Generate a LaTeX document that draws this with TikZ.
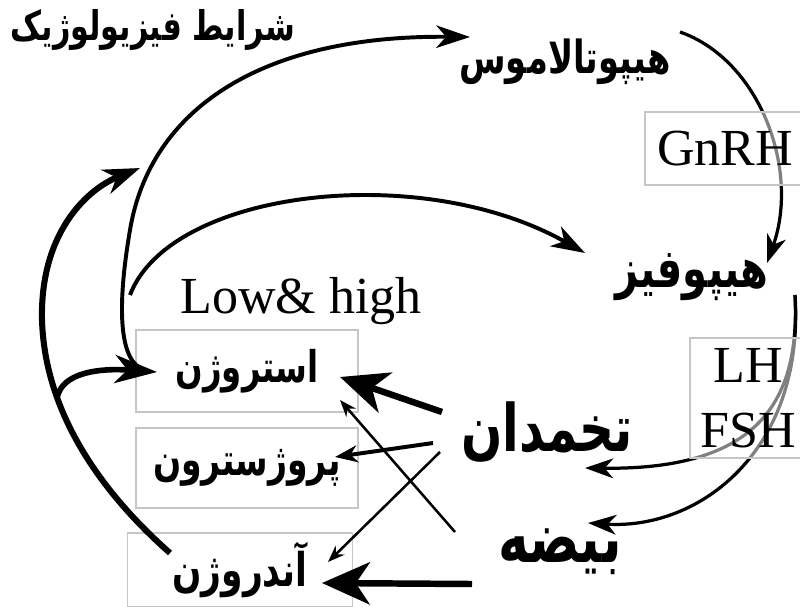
\documentclass[tikz,border=0pt]{standalone}
\usepackage{fontspec}
\setmainfont{Liberation Serif}
\newfontfamily\arabicfont[Script=Arabic]{DejaVu Sans}
\TeXXeTstate=1
\usetikzlibrary{arrows.meta}
\newcommand{\fa}[1]{\scalebox{1}[1.35]{\beginR #1\endR}}

\begin{document}
\begin{tikzpicture}[x=0.025cm,y=-0.025cm,
  fatext/.style={font=\arabicfont\bfseries\fontsize{#1}{#1}\selectfont,inner sep=0pt},
  latin/.style={font=\fontsize{37}{46}\selectfont,inner sep=0pt},
  hormbox/.style={fatext=#1,draw=gray!45,line width=0.8pt},
  gonbox/.style={latin,draw=gray!45,line width=0.8pt,fill=white,fill opacity=0.5,text opacity=1,align=center},
  feed/.style={line width=2.8pt,-{Stealth[length=24pt,width=16pt,inset=7pt]}},
  axis/.style={line width=2.3pt,-{Stealth[length=20pt,width=14pt,inset=6pt]}},
  heavy/.style={line width=4.6pt,-{Stealth[length=34pt,width=30pt,inset=10pt]}},
  medium/.style={line width=2.8pt,-{Stealth[length=16pt,width=12pt,inset=5pt]}},
  light/.style={line width=1.8pt,-{Stealth[length=12pt,width=9pt,inset=4pt]}}]

  \useasboundingbox (0,0) rectangle (800,606);

  \node[fatext=21.5] (physcond) at (153,30) {\fa{شرایط فیزیولوژیک}};
  \node[fatext=24] (hypoth) at (565,62) {\fa{هیپوتالاموس}};
  \node[fatext=28.5] (hypoph) at (692,277) {\fa{هیپوفیز}};
  \node[latin,anchor=base] (lowhigh) at (301,313) {Low\& high};
  \node[fatext=34.5] (ovary) at (547,432) {\fa{تخمدان}};
  \node[fatext=37] (testis) at (560,552) {\fa{بیضه}};

  \node[hormbox=23,minimum width=5.55cm,minimum height=2.05cm] (estrogen) at (247,371) {\fa{استروژن}};
  \node[hormbox=23.5,minimum width=5.55cm,minimum height=2cm] (progest) at (247,468) {\fa{پروژسترون}};
  \node[hormbox=24.5,minimum width=5.63cm,minimum height=1.85cm] (androgen) at (240,570) {\fa{آندروژن}};

  \coordinate (estfoot) at (140,368);
  \coordinate (fork) at (130,295);
  \coordinate (hypothin) at (470,37);
  \coordinate (hypophin) at (585,253);
  \coordinate (hypothout) at (680,32);
  \coordinate (hypophtop) at (767,263);
  \coordinate (hypophout) at (795,295);
  \coordinate (ovaryin) at (585,468);
  \coordinate (testisin) at (588,523);
  \coordinate (androut) at (170,553);
  \coordinate (androfork) at (57,398);
  \coordinate (estin) at (157,372);
  \coordinate (physin) at (140,168);

  \draw[feed] (estfoot) .. controls (118,355) and (118,300) .. (130,230)
    .. controls (150,110) and (260,35) .. (hypothin);
  \draw[feed] (fork) .. controls (170,190) and (420,160) .. (hypophin);
  \draw[axis] (hypothout) .. controls (760,60) and (800,170) .. (hypophtop);
  \draw[axis] (hypophout) .. controls (800,400) and (760,470) .. (ovaryin);
  \draw[axis] (hypophout) .. controls (805,450) and (700,530) .. (testisin);

  \draw[line width=4.3pt,-{Stealth[length=26pt,width=18pt,inset=8pt]}] (androut) .. controls (110,500) and (45,420) .. (42,320)
    .. controls (40,235) and (85,190) .. (physin);
  \draw[line width=4pt,-{Stealth[length=30pt,width=20pt,inset=9pt]}] (androfork) .. controls (62,372) and (100,368) .. (estin);

  \node[gonbox,minimum width=4cm,minimum height=1.825cm] (gnrh) at (725,148.5) {GnRH};
  \node[gonbox,minimum width=2.9cm,minimum height=3cm] (lhfsh) at (748,398) {LH\\FSH};

  \coordinate (ovest) at (442,412);
  \coordinate (ovprog) at (433,443);
  \coordinate (ovandr) at (440,452);
  \coordinate (teest) at (455,532);
  \coordinate (teandr) at (472,584);
  \coordinate (estright) at (340,377);
  \coordinate (estlow) at (340,400);
  \coordinate (progright) at (335,457);
  \coordinate (androtop) at (328,562);
  \coordinate (androright) at (322,583);

  \draw[heavy] (ovest) -- (estright);
  \draw[medium] (ovprog) -- (progright);
  \draw[light] (ovandr) -- (androtop);
  \draw[light] (teest) -- (estlow);
  \draw[heavy] (teandr) -- (androright);

\end{tikzpicture}
\end{document}
